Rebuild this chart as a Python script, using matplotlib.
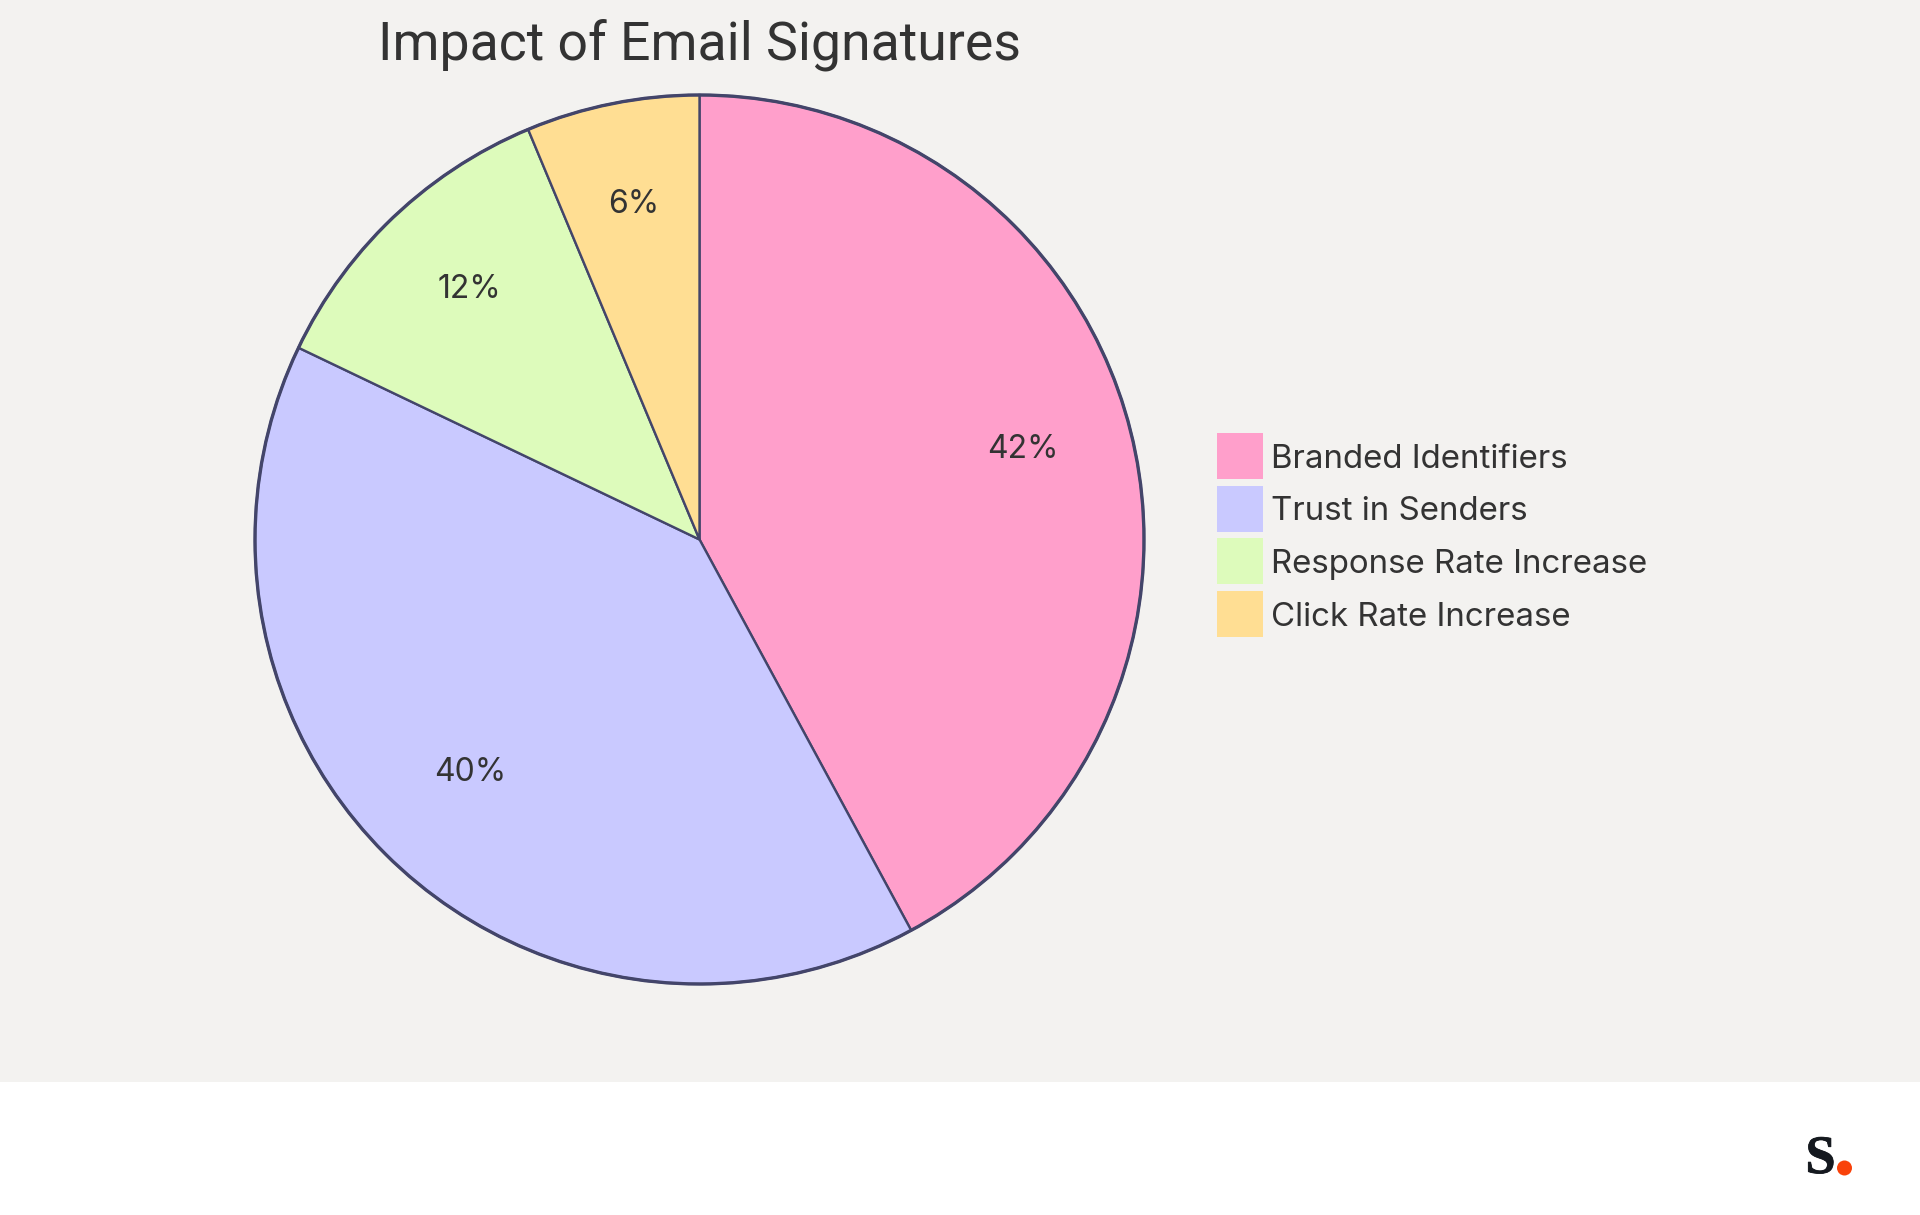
import matplotlib
matplotlib.use("Agg")
import matplotlib.pyplot as plt
import matplotlib.patheffects as pe
from matplotlib.patches import Circle, Rectangle

categories = ["Branded Identifiers", "Trust in Senders", "Response Rate Increase", "Click Rate Increase"]
values = [42.1, 40.0, 11.6, 6.3]
colors = ["#FF9FCB", "#C9C9FF", "#DDFBBB", "#FFDE93"]
title = "Impact of Email Signatures"

W, H = 1920, 1215
BG = "#F3F2F0"
INK = "#333333"
EDGE = "#43456A"
plt.rcParams['font.family'] = ['Inter', 'DejaVu Sans']

fig = plt.figure(figsize=(W / 100, H / 100), dpi=100, facecolor="white")
over = fig.add_axes([0, 0, 1, 1], zorder=0)
over.set_xlim(0, W)
over.set_ylim(H, 0)
over.axis("off")
over.add_patch(Rectangle((0, 0), W, 1082, fc=BG, ec="none"))

cx, cy, r = 699.5, 539.5, 444.5
ax = fig.add_axes([(cx - r) / W, 1 - (cy + r) / H, 2 * r / W, 2 * r / H], zorder=1)
ax.set_xlim(-1, 1)
ax.set_ylim(-1, 1)
ax.axis("off")
wedges, _, autotexts = ax.pie(
    values, colors=colors, startangle=90, counterclock=False, radius=1,
    autopct="%.0f%%", pctdistance=0.75,
    wedgeprops=dict(edgecolor=EDGE, linewidth=1.7),
    textprops=dict(fontsize=23, color=INK),
)
for t in autotexts:
    t.set_va("baseline")
ax.set_xlim(-1, 1)
ax.set_ylim(-1, 1)
ax.add_patch(Circle((0, 0), 1, fc="none", ec=EDGE, lw=2.4, clip_on=False))

over.text(699.5, 45, title, ha="center", va="center", fontsize=38.6, color=INK, family="Roboto")

sw = 46
for i, (lab, col) in enumerate(zip(categories, colors)):
    y = 433 + i * 52.7
    over.add_patch(Rectangle((1217, y), sw, sw, fc=col, ec="none"))
    over.text(1271, y + 26, lab, ha="left", va="center", fontsize=23.8, color=INK)

over.text(1820.5, 1160, "S", ha="center", va="center", fontsize=39, fontweight="bold",
          family="Liberation Serif", color="#15191F",
          path_effects=[pe.withStroke(linewidth=0.6, foreground="#15191F")])
over.add_patch(Circle((1844.5, 1168), 7.5, fc="#F9420A", ec="none"))

fig.savefig("out.png", dpi=100, facecolor="white")
